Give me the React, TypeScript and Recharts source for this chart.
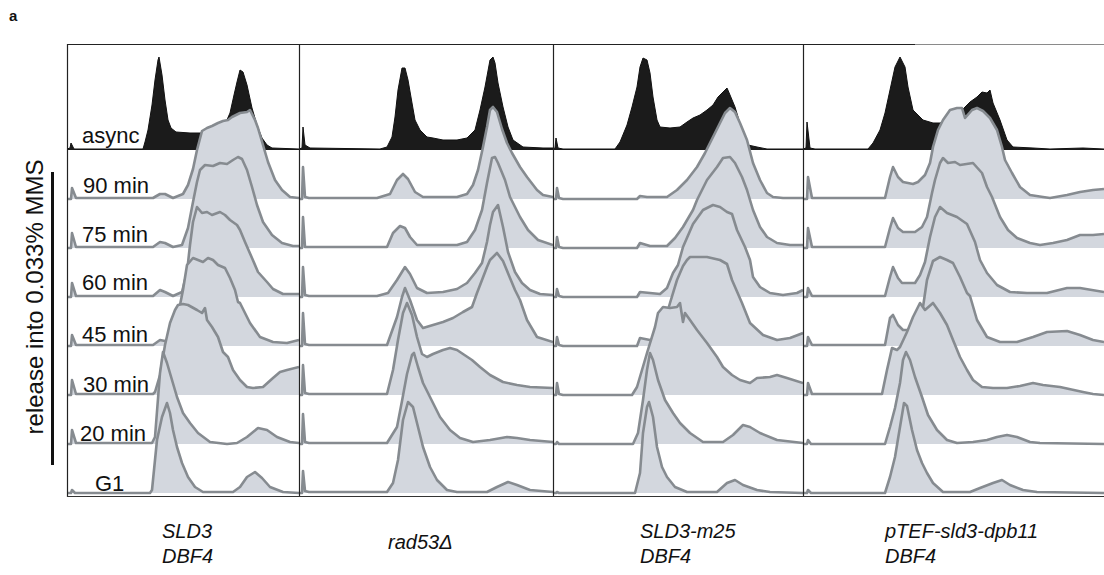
import React from 'react';
import { ComposedChart, Area, XAxis, YAxis } from 'recharts';

type Pt = [number, number];

// Row labels (top to bottom) and strain captions
const timeLabels = ['async', '90 min', '75 min', '60 min', '45 min', '30 min', '20 min', 'G1'];
const strainCaptions: string[][] = [['SLD3', 'DBF4'], ['rad53Δ'], ['SLD3-m25', 'DBF4'], ['pTEF-sld3-dpb11', 'DBF4']];
const sideTitle = 'release into 0.033% MMS';

// ---- Panel 1: SLD3 DBF4  [channel, cell count] ----
const p1Async: Pt[] = [[0,1],[3,2],[4,7],[7,1],[76,1],[78,8],[81,20],[85,45],[88,70],[91,90],[92,93],[95,75],[98,50],[101,30],[104,22],[109,18],[123,17],[136,17],[145,18],[153,22],[159,28],[163,37],[167,55],[170,68],[173,80],[176,78],[180,65],[185,42],[190,25],[195,12],[200,5],[205,2],[232,1]];
const p1M90: Pt[] = [[0,0],[4,0],[5,11],[9,1],[86,1],[93,5],[98,5],[106,1],[116,5],[121,14],[126,30],[130,49],[135,68],[140,71],[145,73],[151,76],[156,78],[161,79],[165,82],[173,86],[180,87],[183,89],[188,79],[191,71],[196,54],[201,37],[208,19],[215,9],[223,2],[232,1]];
const p1M75: Pt[] = [[0,0],[4,0],[5,15],[9,1],[86,1],[93,6],[98,5],[106,1],[115,3],[121,20],[126,46],[130,66],[133,78],[138,83],[146,82],[153,85],[160,84],[166,88],[171,91],[175,89],[180,78],[185,61],[190,43],[196,26],[205,13],[215,5],[226,2],[232,2]];
const p1M60: Pt[] = [[0,0],[4,0],[5,14],[9,1],[86,1],[93,7],[98,5],[106,1],[115,5],[120,25],[123,52],[126,75],[130,90],[135,84],[140,85],[145,82],[153,85],[158,82],[163,77],[170,72],[173,67],[178,55],[185,39],[191,25],[200,15],[206,8],[216,3],[232,3]];
const p1M45: Pt[] = [[0,0],[4,0],[5,11],[9,1],[86,1],[93,6],[98,5],[105,6],[110,25],[113,41],[116,56],[120,81],[126,88],[131,86],[136,84],[141,88],[146,86],[151,81],[158,78],[163,68],[168,56],[171,44],[173,43],[183,23],[193,9],[206,4],[220,3],[232,6]];
const p1M30: Pt[] = [[0,0],[4,0],[5,15],[9,1],[86,1],[88,3],[93,20],[98,50],[103,72],[108,85],[111,90],[116,91],[121,90],[130,85],[135,82],[138,87],[140,75],[145,68],[151,58],[156,43],[161,38],[166,25],[173,15],[180,8],[186,7],[196,8],[206,17],[213,23],[220,25],[232,28]];
const p1M20: Pt[] = [[0,0],[4,0],[5,14],[9,1],[85,1],[88,7],[93,71],[96,92],[100,81],[105,64],[110,47],[116,31],[123,21],[131,11],[143,2],[160,0],[170,1],[180,7],[191,16],[200,14],[210,7],[223,2],[232,1]];
const p1G1: Pt[] = [[0,0],[4,0],[5,3],[8,0],[83,0],[85,3],[90,53],[95,76],[100,90],[103,80],[106,63],[110,46],[115,30],[121,16],[128,6],[136,1],[166,1],[173,6],[180,16],[188,21],[195,15],[203,6],[216,1],[232,0]];

// ---- Panel 2: rad53Δ ----
const p2Async: Pt[] = [[0,1],[3,2],[4,23],[6,5],[11,2],[81,1],[88,3],[93,13],[96,33],[99,60],[103,82],[106,82],[109,70],[113,47],[116,30],[121,20],[128,13],[134,12],[144,10],[158,10],[168,12],[176,20],[181,40],[186,63],[191,90],[194,93],[196,87],[199,67],[204,43],[209,23],[214,10],[224,3],[244,2],[254,2]];
const p2M90: Pt[] = [[0,0],[3,0],[4,32],[6,2],[10,1],[78,1],[91,5],[98,19],[104,25],[109,20],[116,7],[124,2],[158,2],[168,5],[174,14],[179,29],[184,52],[188,72],[191,89],[194,92],[198,87],[203,70],[208,56],[213,46],[221,32],[228,22],[238,9],[244,4],[254,2]];
const p2M75: Pt[] = [[0,0],[3,0],[4,31],[6,1],[10,1],[88,1],[94,15],[101,22],[106,20],[111,11],[118,3],[158,3],[168,6],[176,18],[183,38],[188,65],[193,90],[196,91],[199,85],[206,68],[211,51],[221,31],[229,18],[239,8],[254,3]];
const p2M60: Pt[] = [[0,0],[3,0],[4,30],[6,2],[10,1],[78,1],[89,4],[98,17],[106,30],[111,23],[118,9],[128,4],[144,5],[158,8],[168,14],[176,24],[183,34],[188,55],[191,72],[194,85],[199,92],[204,70],[209,45],[216,25],[223,14],[231,7],[241,3],[254,2]];
const p2M45: Pt[] = [[0,0],[3,0],[4,33],[6,2],[10,1],[88,1],[98,29],[103,49],[106,58],[111,46],[118,26],[124,18],[134,21],[144,24],[154,28],[164,34],[173,39],[178,53],[183,66],[188,79],[191,86],[198,93],[204,85],[211,68],[216,56],[221,46],[228,26],[238,9],[254,4]];
const p2M30: Pt[] = [[0,0],[3,0],[4,30],[6,2],[10,1],[88,1],[94,25],[99,55],[104,82],[108,92],[113,80],[118,58],[123,41],[128,38],[134,41],[144,45],[151,47],[158,45],[164,41],[173,35],[181,28],[191,20],[204,13],[218,10],[231,8],[254,7]];
const p2M20: Pt[] = [[0,0],[3,0],[4,30],[6,2],[10,1],[88,1],[98,17],[103,43],[108,70],[113,89],[115,91],[119,77],[124,61],[131,47],[134,41],[141,27],[151,14],[161,6],[174,2],[191,4],[208,7],[218,6],[231,4],[254,2]];
const p2G1: Pt[] = [[0,0],[3,0],[4,22],[6,2],[10,1],[88,1],[94,10],[99,33],[104,73],[109,91],[114,86],[119,66],[124,46],[131,26],[138,13],[148,3],[158,1],[188,1],[198,6],[209,11],[218,8],[231,3],[254,1]];

// ---- Panel 3: SLD3-m25 DBF4 ----
const p3Async: Pt[] = [[0,1],[2,2],[3,12],[5,2],[10,1],[62,1],[67,8],[74,25],[79,43],[84,63],[87,83],[90,92],[94,90],[97,77],[100,53],[104,30],[107,23],[117,22],[127,23],[134,28],[140,32],[147,35],[154,40],[160,45],[165,53],[170,58],[174,62],[177,55],[182,43],[189,20],[195,5],[204,3],[214,1],[250,1]];
const p3M90: Pt[] = [[0,0],[3,0],[4,11],[6,1],[10,0],[84,0],[87,3],[94,2],[114,2],[124,9],[134,19],[144,32],[152,46],[160,62],[167,76],[172,86],[177,91],[182,87],[187,76],[194,59],[200,36],[207,19],[214,6],[220,2],[230,1],[250,1]];
const p3M75: Pt[] = [[0,0],[3,0],[4,11],[6,1],[10,0],[84,0],[87,5],[97,2],[114,2],[122,10],[130,21],[140,38],[144,48],[154,68],[164,81],[170,90],[177,91],[182,85],[189,71],[194,58],[200,38],[207,21],[214,11],[224,5],[237,3],[250,3]];
const p3M60: Pt[] = [[0,0],[3,0],[4,8],[6,1],[10,0],[84,0],[87,5],[97,4],[107,3],[114,9],[120,24],[125,32],[130,50],[140,73],[150,87],[160,92],[167,90],[174,85],[179,83],[184,67],[192,50],[197,37],[200,20],[207,10],[217,4],[230,2],[244,4],[250,7]];
const p3M45: Pt[] = [[0,0],[3,0],[4,9],[6,1],[10,0],[84,0],[87,8],[97,6],[107,6],[112,26],[117,43],[124,66],[130,80],[134,86],[137,89],[154,89],[167,86],[174,82],[179,66],[189,43],[197,23],[210,11],[224,6],[237,8],[250,13]];
const p3M30: Pt[] = [[0,0],[3,0],[4,12],[6,1],[10,0],[79,0],[84,8],[89,25],[94,42],[102,68],[105,82],[110,88],[117,87],[124,88],[127,92],[130,73],[132,82],[137,75],[144,65],[154,52],[164,38],[170,28],[179,20],[187,15],[197,12],[204,17],[217,18],[224,20],[234,17],[250,12]];
const p3M20: Pt[] = [[0,0],[3,0],[4,2],[6,0],[80,0],[85,11],[90,44],[94,74],[97,91],[100,84],[105,64],[112,44],[120,31],[127,21],[137,11],[150,2],[170,2],[180,9],[190,19],[197,17],[207,11],[224,4],[250,1]];
const p3G1: Pt[] = [[0,0],[3,0],[4,1],[6,0],[82,0],[87,20],[90,60],[94,86],[96,91],[100,76],[104,46],[109,26],[114,16],[122,6],[134,1],[164,1],[174,10],[182,13],[190,8],[204,3],[217,1],[250,0]];

// ---- Panel 4: pTEF-sld3-dpb11 DBF4 ----
const p4Async: Pt[] = [[0,1],[3,2],[4,28],[7,2],[12,1],[65,1],[70,7],[77,20],[82,37],[87,60],[92,83],[97,93],[102,83],[105,63],[110,40],[115,35],[120,30],[130,27],[137,27],[147,30],[157,38],[167,48],[174,53],[179,58],[184,57],[187,60],[190,47],[197,30],[204,10],[210,3],[230,2],[247,1],[280,2],[301,1]];
const p4M90: Pt[] = [[0,0],[4,0],[5,22],[9,1],[82,1],[87,22],[90,32],[95,22],[100,17],[110,15],[115,17],[122,24],[127,36],[130,52],[135,69],[140,79],[147,89],[154,91],[159,91],[162,81],[169,89],[174,91],[180,88],[187,81],[194,69],[199,52],[202,39],[209,26],[217,12],[227,4],[240,2],[247,1],[264,4],[277,7],[290,9],[301,10]];
const p4M75: Pt[] = [[0,0],[4,0],[5,20],[9,1],[82,1],[87,20],[90,30],[95,20],[100,16],[112,16],[119,21],[124,31],[129,55],[132,68],[137,85],[140,90],[145,85],[152,86],[157,83],[170,85],[179,75],[184,61],[189,51],[197,31],[205,18],[214,10],[227,5],[237,3],[250,5],[264,8],[277,13],[290,13],[301,14]];
const p4M60: Pt[] = [[0,0],[4,0],[5,9],[9,1],[82,1],[87,20],[90,30],[95,19],[99,14],[112,14],[117,22],[122,35],[127,60],[132,80],[137,90],[144,84],[154,80],[164,73],[172,55],[177,37],[184,24],[194,12],[207,5],[224,4],[244,4],[264,9],[277,9],[301,5]];
const p4M45: Pt[] = [[0,0],[4,0],[5,9],[9,1],[82,1],[87,28],[90,31],[95,21],[100,16],[114,16],[117,26],[120,39],[124,66],[130,85],[137,89],[144,86],[150,83],[157,69],[164,53],[167,50],[174,26],[184,9],[197,4],[214,4],[230,9],[244,14],[264,15],[277,11],[290,6],[301,4]];
const p4M30: Pt[] = [[0,0],[4,0],[5,12],[9,1],[79,1],[84,25],[89,47],[94,45],[97,48],[104,63],[110,78],[117,92],[122,85],[130,92],[137,82],[144,70],[150,55],[157,38],[164,25],[170,15],[179,8],[190,7],[204,7],[217,9],[230,12],[240,10],[257,8],[280,3],[290,1],[301,0]];
const p4M20: Pt[] = [[0,0],[4,0],[5,4],[8,0],[82,0],[87,17],[92,36],[97,61],[100,84],[103,92],[107,84],[112,67],[119,47],[125,29],[134,14],[144,4],[154,1],[170,2],[184,4],[194,7],[204,9],[214,7],[227,2],[237,1],[301,0]];
const p4G1: Pt[] = [[0,0],[4,0],[5,3],[8,0],[82,0],[87,16],[92,36],[97,66],[101,90],[104,87],[109,63],[114,43],[119,30],[124,20],[130,10],[140,1],[167,1],[177,5],[190,10],[199,13],[207,8],[220,3],[234,1],[301,0]];

const panelRows: Pt[][][] = [
  [p1Async, p1M90, p1M75, p1M60, p1M45, p1M30, p1M20, p1G1],
  [p2Async, p2M90, p2M75, p2M60, p2M45, p2M30, p2M20, p2G1],
  [p3Async, p3M90, p3M75, p3M60, p3M45, p3M30, p3M20, p3G1],
  [p4Async, p4M90, p4M75, p4M60, p4M45, p4M30, p4M20, p4G1],
];
const panelChannels = [232, 254, 250, 301];

// ---- layout ----
const PANEL_LEFT = [67, 299, 553, 803];
const PANEL_TOP = 44;
const PANEL_H = 453;
const ROW_STEP = 49;
const Y_MIN = -4;
const Y_MAX = 449;
const FONT = '"Liberation Sans", Arial, Helvetica, sans-serif';
const GREY_FILL = '#d3d7de';
const GREY_LINE = '#868b90';

function Panel({ idx }: { idx: number }) {
  const rows = panelRows[idx];
  const w = panelChannels[idx];
  return (
    <div style={{ position: 'absolute', left: PANEL_LEFT[idx], top: PANEL_TOP }}>
      <ComposedChart width={w} height={PANEL_H} margin={{ top: 0, right: 0, bottom: 0, left: 0 }}>
        <XAxis type="number" dataKey="ch" domain={[0, w]} hide allowDataOverflow />
        <YAxis type="number" domain={[Y_MIN, Y_MAX]} hide allowDataOverflow />
        {rows.map((pts, r) => {
          const off = (rows.length - 1 - r) * ROW_STEP;
          const isAsync = r === 0;
          const data = pts.map(([c, v]) => ({ ch: c, val: off + v }));
          return (
            <Area
              key={r}
              data={data}
              dataKey="val"
              baseValue={off}
              type="linear"
              stroke={isAsync ? '#111' : GREY_LINE}
              strokeWidth={isAsync ? 1 : 2.6}
              strokeLinejoin="round"
              fill={isAsync ? '#1b1b1b' : GREY_FILL}
              fillOpacity={1}
              dot={false}
              activeDot={false}
              isAnimationActive={false}
            />
          );
        })}
      </ComposedChart>
    </div>
  );
}

const labelBaselines = [143, 193, 242, 290, 342, 392, 441, 491];
const labelX = [82, 83, 82, 82, 82, 83, 80, 95];
const captionX = [162, 388, 640, 885];

export default function App() {
  return (
    <div style={{ position: 'absolute', left: 0, top: 0, width: 1104, height: 575, background: '#fff', overflow: 'hidden' }}>
      {[0, 1, 2, 3].map((i) => <Panel key={i} idx={i} />)}
      <svg width={1104} height={575} style={{ position: 'absolute', left: 0, top: 0, pointerEvents: 'none' }}>
        {/* panel frames */}
        <line x1={67.5} y1={44} x2={67.5} y2={497} stroke="#222" strokeWidth={1.2} />
        <line x1={299.5} y1={44} x2={299.5} y2={497} stroke="#222" strokeWidth={1.2} />
        <line x1={553.5} y1={44} x2={553.5} y2={497} stroke="#222" strokeWidth={1.2} />
        <line x1={803.5} y1={44} x2={803.5} y2={497} stroke="#222" strokeWidth={1.2} />
        <line x1={67} y1={44.5} x2={915} y2={44.5} stroke="#222" strokeWidth={1.2} />
        <line x1={915} y1={44.5} x2={1104} y2={44.5} stroke="#8a8a8a" strokeWidth={1.2} />
        <line x1={67} y1={496.5} x2={1104} y2={496.5} stroke="#333" strokeWidth={1.2} />
        {/* panel letter */}
        <text x={9} y={21} fontFamily={FONT} fontWeight="bold" fontSize={15} fill="#111">a</text>
        {/* time labels */}
        {timeLabels.map((t, i) => (
          <text key={t} x={labelX[i]} y={labelBaselines[i]} fontFamily={FONT} fontSize={22} fill="#111">{t}</text>
        ))}
        {/* side title and bar */}
        <text x={43} y={297} transform="rotate(-90 43 297)" textAnchor="middle" fontFamily={FONT} fontSize={24} fill="#111">{sideTitle}</text>
        <rect x={51} y={172} width={3} height={293} fill="#111" />
        {/* captions */}
        {strainCaptions.map((lines, i) => {
          const single = lines.length === 1;
          return lines.map((ln, j) => (
            <text key={i + '-' + j} x={captionX[i]} y={single ? 549 : 538 + j * 25} fontFamily={FONT} fontStyle="italic" fontSize={20} fill="#111">{ln}</text>
          ));
        })}
      </svg>
    </div>
  );
}
